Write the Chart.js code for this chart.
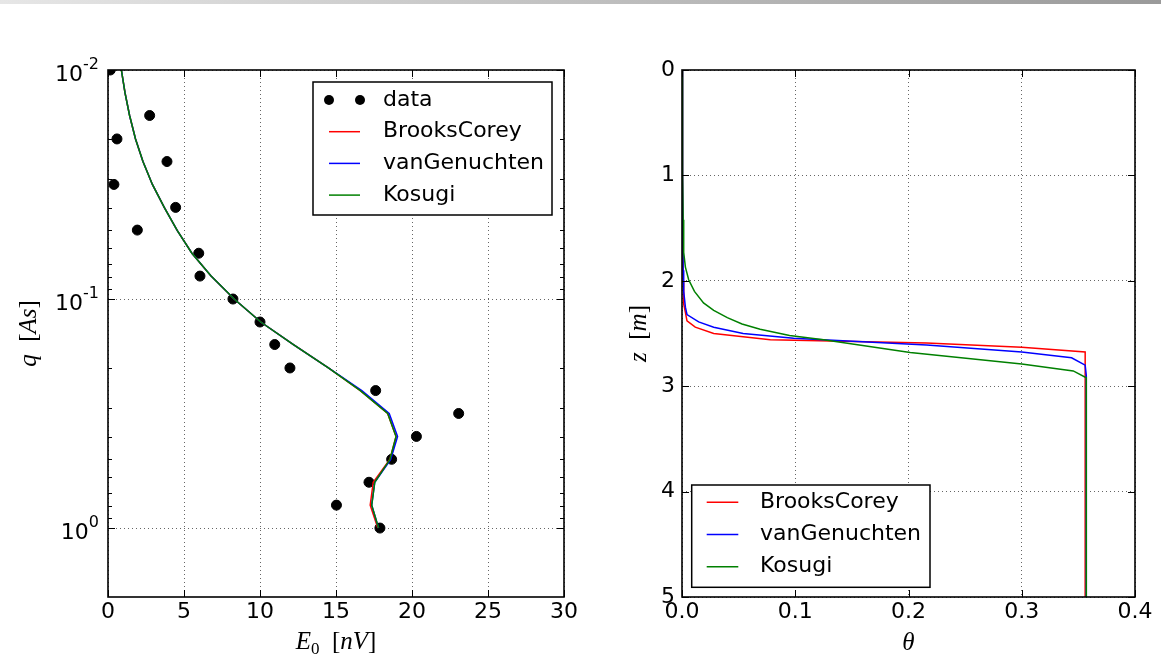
<!DOCTYPE html>
<html lang="pt-BR">

<head>
  <meta charset="UTF-8">
  <script src="https://cdn.jsdelivr.net/npm/chart.js"></script>
  <title>Inversão MRS - E0 x q e perfis de umidade</title>
  <style>
    body { margin: 0; background: #fff; }
    .faixa { position: absolute; left: 0; top: 0; width: 1161px; height: 4px;
             background: linear-gradient(to right, #e6e6e6, #9a9a9a); }
    #graficoE0 { position: absolute; left: 0; top: 0; }
    #graficoTheta { position: absolute; left: 580px; top: 0; }
  </style>
</head>

<body>
  <canvas id="graficoE0" width="580" height="662"></canvas>
  <canvas id="graficoTheta" width="581" height="662"></canvas>
  <div class="faixa"></div>

  <script>
    // momentos de pulso q [As] e amplitudes iniciais medidas E0 [nV]
    const qMedido = [0.01, 0.0158, 0.02, 0.0251, 0.0316, 0.0398, 0.05, 0.0631, 0.0794, 0.1,
                     0.126, 0.158, 0.2, 0.251, 0.316, 0.398, 0.501, 0.631, 0.794, 1.0];
    const e0Medido = [0.15, 2.74, 0.59, 3.88, 0.39, 4.45, 1.93, 5.97, 6.05, 8.22,
                      10.0, 10.97, 11.97, 17.61, 23.07, 20.29, 18.66, 17.17, 15.03, 17.89];

    // resposta calculada de cada modelo
    const qModelo = [0.01, 0.0126, 0.0158, 0.02, 0.0251, 0.0316, 0.0398, 0.0501, 0.0631, 0.0794, 0.1,
                     0.126, 0.158, 0.2, 0.251, 0.316, 0.398, 0.501, 0.631, 0.794, 1.0];
    const e0BrooksCorey = [0.88, 1.12, 1.42, 1.81, 2.30, 2.92, 3.70, 4.55, 5.52, 6.78, 8.3,
                           10.05, 12.2, 14.5, 16.6, 18.4, 18.95, 18.55, 17.45, 17.25, 17.75];
    const e0VanGenuchten = [0.88, 1.12, 1.42, 1.81, 2.30, 2.92, 3.70, 4.55, 5.52, 6.78, 8.3,
                            10.05, 12.2, 14.5, 16.7, 18.5, 19.05, 18.6, 17.55, 17.35, 17.8];
    const e0Kosugi = [0.88, 1.12, 1.42, 1.81, 2.30, 2.92, 3.70, 4.55, 5.52, 6.78, 8.3,
                      10.05, 12.2, 14.5, 16.6, 18.4, 18.95, 18.55, 17.55, 17.35, 17.8];

    // perfis de umidade theta(z)
    const thetaBrooksCorey = [0, 0.0005, 0.001, 0.0015, 0.0015, 0.003, 0.0044, 0.0117, 0.028, 0.078, 0.216, 0.30, 0.356, 0.356];
    const zBrooksCorey = [0, 1.0, 2.0, 2.14, 2.22, 2.30, 2.38, 2.44, 2.50, 2.56, 2.59, 2.63, 2.675, 5.0];
    const thetaVanGenuchten = [0, 0.0005, 0.001, 0.0015, 0.003, 0.0044, 0.0147, 0.028, 0.054, 0.0985, 0.216, 0.30, 0.344, 0.356, 0.357, 0.357];
    const zVanGenuchten = [0, 1.0, 1.9, 2.1, 2.25, 2.32, 2.39, 2.44, 2.50, 2.545, 2.61, 2.675, 2.73, 2.80, 2.9, 5.0];
    const thetaKosugi = [0, 0.0005, 0.001, 0.0015, 0.003, 0.0059, 0.011, 0.019, 0.028, 0.04, 0.053, 0.069, 0.095, 0.125, 0.2015, 0.30, 0.3455, 0.357, 0.357];
    const zKosugi = [0, 1.0, 1.42, 1.73, 1.87, 1.99, 2.10, 2.21, 2.28, 2.35, 2.41, 2.46, 2.52, 2.56, 2.68, 2.79, 2.855, 2.92, 5.0];

    // marcas dos eixos
    const e0Ticks = [0, 5, 10, 15, 20, 25, 30];
    const qTicksMaiores = [0.01, 0.1, 1];
    const qExpoentes = ['-2', '-1', '0'];
    const qTicksMenores = [0.02, 0.03, 0.04, 0.05, 0.06, 0.07, 0.08, 0.09,
                           0.2, 0.3, 0.4, 0.5, 0.6, 0.7, 0.8, 0.9];
    const thetaTicks = [0.0, 0.1, 0.2, 0.3, 0.4];
    const zTicks = [0, 1, 2, 3, 4, 5];

    const fonteTicks = { family: 'DejaVu Sans', size: 22 };
    const grade = 'rgba(0, 0, 0, 0.6)';

    function pontos(xs, ys) {
      return xs.map((x, i) => ({ x: x, y: ys[i] }));
    }

    function fixaTicks(valores, maiores) {
      return function (scale) {
        scale.ticks = valores.map(v => ({ value: v, major: maiores ? maiores.includes(v) : true }));
      };
    }

    // caixa em volta da área do gráfico com marcas para dentro (estilo matplotlib)
    const moldura = {
      id: 'moldura',
      afterDatasetsDraw(chart) {
        const { ctx, chartArea: a, scales } = chart;
        ctx.save();
        ctx.strokeStyle = '#000';
        ctx.lineWidth = 1;
        ctx.beginPath();
        scales.x.ticks.forEach(t => {
          const px = Math.round(scales.x.getPixelForValue(t.value)) + 0.5;
          const len = t.major ? 7 : 4;
          ctx.moveTo(px, a.bottom); ctx.lineTo(px, a.bottom - len);
          ctx.moveTo(px, a.top); ctx.lineTo(px, a.top + len);
        });
        scales.y.ticks.forEach(t => {
          const py = Math.round(scales.y.getPixelForValue(t.value)) + 0.5;
          const len = t.major ? 7 : 4;
          ctx.moveTo(a.left, py); ctx.lineTo(a.left + len, py);
          ctx.moveTo(a.right, py); ctx.lineTo(a.right - len, py);
        });
        ctx.stroke();
        ctx.lineWidth = 1.6;
        ctx.strokeRect(a.left, a.top, a.right - a.left, a.bottom - a.top);
        ctx.restore();
      }
    };

    // texto com partes em fontes diferentes (itálico, subscrito)
    function textoMisto(ctx, partes, x, y, rot) {
      ctx.save();
      ctx.translate(x, y);
      ctx.rotate(rot || 0);
      let total = 0;
      partes.forEach(p => { ctx.font = p.f; total += ctx.measureText(p.t).width; });
      let cx = -total / 2;
      ctx.textBaseline = 'alphabetic';
      ctx.fillStyle = '#000';
      partes.forEach(p => {
        ctx.font = p.f;
        ctx.fillText(p.t, cx, p.dy || 0);
        cx += ctx.measureText(p.t).width;
      });
      ctx.restore();
    }

    const italico = 'italic 25px "Liberation Serif"';
    const romano = '25px "Liberation Serif"';
    const pequeno = '17px "Liberation Serif"';

    const titulos = {
      id: 'titulos',
      afterDraw(chart, args, o) {
        const a = chart.chartArea;
        textoMisto(chart.ctx, o.x, (a.left + a.right) / 2, o.xBase);
        textoMisto(chart.ctx, o.y, o.yBase, (a.top + a.bottom) / 2, -Math.PI / 2);
      }
    };

    // rótulos 10^n do eixo logarítmico com expoente sobrescrito
    const potencias = {
      id: 'potencias',
      afterDraw(chart) {
        const ctx = chart.ctx;
        const y = chart.scales.y;
        const direita = chart.chartArea.left - 9;
        ctx.save();
        ctx.fillStyle = '#000';
        ctx.textAlign = 'right';
        ctx.textBaseline = 'alphabetic';
        qTicksMaiores.forEach((v, i) => {
          const py = y.getPixelForValue(v);
          ctx.font = '16px "DejaVu Sans"';
          const w = ctx.measureText(qExpoentes[i]).width;
          ctx.fillText(qExpoentes[i], direita, py - 1.5);
          ctx.font = '22px "DejaVu Sans"';
          ctx.fillText('10', direita - w, py + 11);
        });
        ctx.restore();
      }
    };

    const legendaCaixa = {
      id: 'legendaCaixa',
      afterDraw(chart, args, o) {
        const ctx = chart.ctx;
        ctx.save();
        ctx.fillStyle = '#fff';
        ctx.fillRect(o.x, o.y, o.w, o.h);
        ctx.strokeStyle = '#000';
        ctx.lineWidth = 1.5;
        ctx.strokeRect(o.x, o.y, o.w, o.h);
        ctx.font = '22px "DejaVu Sans"';
        ctx.textBaseline = 'middle';
        chart.data.datasets.forEach((ds, i) => {
          const cy = o.linha1 + i * o.passo;
          if (ds.showLine) {
            ctx.strokeStyle = ds.borderColor;
            ctx.lineWidth = 1.5;
            ctx.beginPath();
            ctx.moveTo(o.x + o.l0, cy);
            ctx.lineTo(o.x + o.l1, cy);
            ctx.stroke();
          } else {
            ctx.fillStyle = ds.backgroundColor;
            [o.l0, o.l1].forEach(dx => {
              ctx.beginPath();
              ctx.arc(o.x + dx, cy, 5, 0, Math.PI * 2);
              ctx.fill();
            });
          }
          ctx.fillStyle = '#000';
          ctx.fillText(ds.label, o.x + o.tx, cy);
        });
        ctx.restore();
      }
    };

    function linha(label, cor, dados, ordem) {
      return {
        label: label,
        data: dados,
        showLine: true,
        borderColor: cor,
        backgroundColor: cor,
        borderWidth: 1.5,
        pointRadius: 0,
        tension: 0,
        order: ordem
      };
    }

    // E0 x q
    new Chart(document.getElementById('graficoE0'), {
      type: 'scatter',
      data: {
        datasets: [
          {
            label: 'data',
            data: pontos(e0Medido, qMedido),
            backgroundColor: '#000',
            borderColor: '#000',
            pointRadius: 5,
            pointHoverRadius: 5,
            clip: 0,
            order: 3
          },
          linha('BrooksCorey', '#ff0000', pontos(e0BrooksCorey, qModelo), 2),
          linha('vanGenuchten', '#0000ff', pontos(e0VanGenuchten, qModelo), 1),
          linha('Kosugi', '#008000', pontos(e0Kosugi, qModelo), 0)
        ]
      },
      options: {
        responsive: false,
        animation: false,
        layout: { padding: { top: 70, right: 16, bottom: 0, left: 0 } },
        plugins: {
          legend: { display: false },
          tooltip: { enabled: false },
          legendaCaixa: { x: 313, y: 82, w: 239, h: 133, linha1: 100, passo: 31.7, l0: 16, l1: 47, tx: 70 },
          titulos: {
            x: [{ t: 'E', f: italico }, { t: '0', f: pequeno, dy: 5 }, { t: '  [', f: romano }, { t: 'nV', f: italico }, { t: ']', f: romano }],
            xBase: 649,
            y: [{ t: 'q', f: italico }, { t: '  [', f: romano }, { t: 'As', f: italico }, { t: ']', f: romano }],
            yBase: 36
          }
        },
        scales: {
          x: {
            type: 'linear',
            min: 0,
            max: 30,
            afterBuildTicks: fixaTicks(e0Ticks),
            afterFit: s => { s.height = 65; },
            grid: { color: grade, lineWidth: 1, drawTicks: false },
            border: { display: false, dash: [1, 3] },
            ticks: { font: fonteTicks, color: '#000', padding: 2, maxRotation: 0, autoSkip: false }
          },
          y: {
            type: 'logarithmic',
            min: 0.01,
            max: 2,
            reverse: true,
            afterBuildTicks: fixaTicks(qTicksMaiores.concat(qTicksMenores), qTicksMaiores),
            afterFit: s => { s.width = 108; },
            grid: {
              color: c => (c.tick && qTicksMaiores.includes(c.tick.value)) ? grade : 'rgba(0,0,0,0)',
              lineWidth: 1,
              drawTicks: false
            },
            border: { display: false, dash: [1, 3] },
            ticks: { font: fonteTicks, autoSkip: false, callback: () => '' }
          }
        }
      },
      plugins: [moldura, titulos, potencias, legendaCaixa]
    });

    // perfis theta(z)
    new Chart(document.getElementById('graficoTheta'), {
      type: 'scatter',
      data: {
        datasets: [
          linha('BrooksCorey', '#ff0000', pontos(thetaBrooksCorey, zBrooksCorey), 2),
          linha('vanGenuchten', '#0000ff', pontos(thetaVanGenuchten, zVanGenuchten), 1),
          linha('Kosugi', '#008000', pontos(thetaKosugi, zKosugi), 0)
        ]
      },
      options: {
        responsive: false,
        animation: false,
        layout: { padding: { top: 70, right: 26, bottom: 0, left: 0 } },
        plugins: {
          legend: { display: false },
          tooltip: { enabled: false },
          legendaCaixa: { x: 111.7, y: 485, w: 238.3, h: 102.3, linha1: 502.3, passo: 32.2, l0: 15, l1: 46.6, tx: 68.3 },
          titulos: {
            x: [{ t: 'θ', f: italico }],
            xBase: 650,
            y: [{ t: 'z', f: italico }, { t: '  [', f: romano }, { t: 'm', f: italico }, { t: ']', f: romano }],
            yBase: 66
          }
        },
        scales: {
          x: {
            type: 'linear',
            min: 0,
            max: 0.4,
            afterBuildTicks: fixaTicks(thetaTicks),
            afterFit: s => { s.height = 65; },
            grid: { color: grade, lineWidth: 1, drawTicks: false },
            border: { display: false, dash: [1, 3] },
            ticks: {
              font: fonteTicks,
              color: '#000',
              padding: 2,
              maxRotation: 0,
              autoSkip: false,
              callback: v => v.toFixed(1)
            }
          },
          y: {
            type: 'linear',
            min: 0,
            max: 5,
            reverse: true,
            afterBuildTicks: fixaTicks(zTicks),
            afterFit: s => { s.width = 102; },
            grid: { color: grade, lineWidth: 1, drawTicks: false },
            border: { display: false, dash: [1, 3] },
            ticks: { font: fonteTicks, color: '#000', padding: 7, autoSkip: false }
          }
        }
      },
      plugins: [moldura, titulos, legendaCaixa]
    });
  </script>
</body>

</html>
